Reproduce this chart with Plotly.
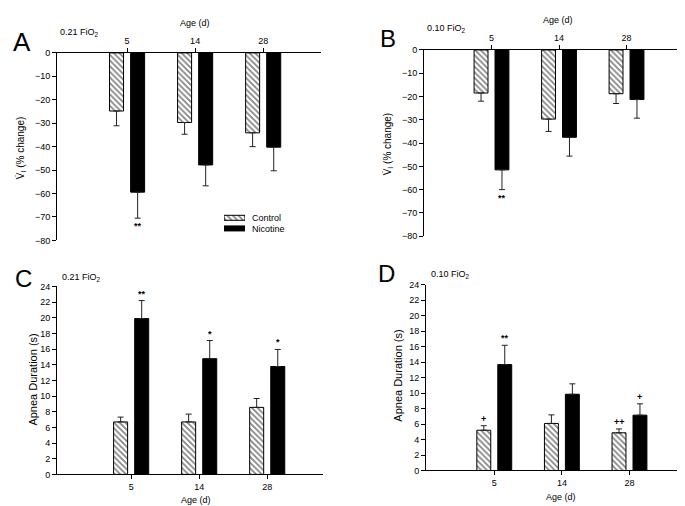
import plotly.graph_objects as go

W, H = 685, 506
FONT = "Liberation Sans, Arial, sans-serif"

# ---------------- data ----------------
ages = ["5", "14", "28"]
cat_pos = [0, 1, 2]

# Panel A: 0.21 FiO2, VI (% change)
a_control = [-24.8, -29.7, -34.1]
a_control_err = [6.3, 5.0, 5.9]
a_nicotine = [-59.4, -47.8, -40.2]
a_nicotine_err = [11.1, 8.9, 10.1]
a_control_sig = ["", "", ""]
a_nicotine_sig = ["**", "", ""]

# Panel B: 0.10 FiO2, VI (% change)
b_control = [-18.5, -29.7, -18.8]
b_control_err = [3.5, 5.3, 4.2]
b_nicotine = [-51.5, -37.5, -21.3]
b_nicotine_err = [8.5, 8.1, 8.0]
b_control_sig = ["", "", ""]
b_nicotine_sig = ["**", "", ""]

# Panel C: 0.21 FiO2, apnea duration (s)
c_control = [6.7, 6.7, 8.56]
c_control_err = [0.62, 1.0, 1.13]
c_nicotine = [19.9, 14.78, 13.78]
c_nicotine_err = [2.3, 2.32, 2.18]
c_control_sig = ["", "", ""]
c_nicotine_sig = ["**", "*", "*"]

# Panel D: 0.10 FiO2, apnea duration (s)
d_control = [5.2, 6.08, 4.87]
d_control_err = [0.59, 1.11, 0.5]
d_nicotine = [13.69, 9.85, 7.15]
d_nicotine_err = [2.49, 1.35, 1.47]
d_control_sig = ["+", "", "++"]
d_nicotine_sig = ["**", "", "+"]

# ---------------- layout helpers ----------------
def px_x(p):
    return p / W

def px_y(p):
    return 1 - p / H

BAR_W = 0.206
HALF_SEP = 0.155
OFF_C = -HALF_SEP - BAR_W / 2
OFF_N = HALF_SEP - BAR_W / 2

panels = [
    dict(key="A", ax=1, ctrl=a_control, ctrl_err=a_control_err, nic=a_nicotine, nic_err=a_nicotine_err,
         csig=a_control_sig, nsig=a_nicotine_sig, neg=True,
         box=(49, 313, 40.7, 232), xr=[-1.03, 2.85], fio="0.21 FiO<sub>2</sub>"),
    dict(key="B", ax=2, ctrl=b_control, ctrl_err=b_control_err, nic=b_nicotine, nic_err=b_nicotine_err,
         csig=b_control_sig, nsig=b_nicotine_sig, neg=True,
         box=(416, 684, 37.7, 227.7), xr=[-1.0, 2.97], fio="0.10 FiO<sub>2</sub>"),
    dict(key="C", ax=3, ctrl=c_control, ctrl_err=c_control_err, nic=c_nicotine, nic_err=c_nicotine_err,
         csig=c_control_sig, nsig=c_nicotine_sig, neg=False,
         box=(49, 315, 279, 470.7), xr=[-1.09, 2.82], fio="0.21 FiO<sub>2</sub>"),
    dict(key="D", ax=4, ctrl=d_control, ctrl_err=d_control_err, nic=d_nicotine, nic_err=d_nicotine_err,
         csig=d_control_sig, nsig=d_nicotine_sig, neg=False,
         box=(418, 683, 277.3, 466.7), xr=[-1.01, 2.91], fio="0.10 FiO<sub>2</sub>"),
]

fig = go.Figure()
annotations = []
layout = {}

hatch = dict(shape="\\", fgcolor="black", bgcolor="white", size=4, solidity=0.4)

for p in panels:
    n = p["ax"]
    xa = "x" if n == 1 else f"x{n}"
    ya = "y" if n == 1 else f"y{n}"
    zeros = [0, 0, 0]
    if p["neg"]:
        ec = dict(type="data", symmetric=False, array=zeros, arrayminus=p["ctrl_err"],
                  color="#222", thickness=1, width=3)
        en = dict(type="data", symmetric=False, array=zeros, arrayminus=p["nic_err"],
                  color="#222", thickness=1, width=3)
    else:
        ec = dict(type="data", symmetric=False, array=p["ctrl_err"], arrayminus=zeros,
                  color="#222", thickness=1, width=3)
        en = dict(type="data", symmetric=False, array=p["nic_err"], arrayminus=zeros,
                  color="#222", thickness=1, width=3)
    fig.add_trace(go.Bar(x=cat_pos, y=p["ctrl"], width=BAR_W, offset=OFF_C,
                         marker=dict(color="white", line=dict(color="black", width=1), pattern=hatch),
                         error_y=ec, xaxis=xa, yaxis=ya, showlegend=False))
    fig.add_trace(go.Bar(x=cat_pos, y=p["nic"], width=BAR_W, offset=OFF_N,
                         marker=dict(color="black", line=dict(color="black", width=1)),
                         error_y=en, xaxis=xa, yaxis=ya, showlegend=False))

    x0, x1, top, bot = p["box"]
    xkey = "xaxis" if n == 1 else f"xaxis{n}"
    ykey = "yaxis" if n == 1 else f"yaxis{n}"
    tickfont = dict(family=FONT, size=9, color="black")
    layout[xkey] = dict(domain=[px_x(x0), px_x(x1)], range=p["xr"], anchor=ya,
                        side="top" if p["neg"] else "bottom",
                        tickvals=cat_pos, ticktext=ages, ticks="outside", ticklen=4,
                        tickcolor="black", showline=True, linecolor="black", linewidth=1,
                        showgrid=False, zeroline=False, tickfont=tickfont, fixedrange=True)
    if p["neg"]:
        yr, dt = [-80, 0], 10
    else:
        yr, dt = [0, 24], 2
    layout[ykey] = dict(domain=[px_y(bot), px_y(top)], range=yr, dtick=dt, anchor=xa,
                        ticks="outside", ticklen=4, tickcolor="black",
                        showline=True, linecolor="black", linewidth=1,
                        showgrid=False, zeroline=False, tickfont=tickfont, fixedrange=True)

    # significance marks
    for i in range(3):
        for sig, vals, errs, off in ((p["csig"], p["ctrl"], p["ctrl_err"], -HALF_SEP),
                                     (p["nsig"], p["nic"], p["nic_err"], HALF_SEP)):
            if sig[i]:
                if p["neg"]:
                    yv = vals[i] - errs[i]
                    annotations.append(dict(x=cat_pos[i] + off, y=yv, xref=xa, yref=ya,
                                            text="<b>" + sig[i] + "</b>",
                                            showarrow=False, yanchor="top", yshift=-1,
                                            font=dict(family=FONT, size=9, color="black")))
                else:
                    yv = vals[i] + errs[i]
                    annotations.append(dict(x=cat_pos[i] + off, y=yv, xref=xa, yref=ya,
                                            text="<b>" + sig[i] + "</b>",
                                            showarrow=False, yanchor="bottom", yshift=0,
                                            font=dict(family=FONT, size=9, color="black")))

# ---------------- text annotations (paper) ----------------
def ann(text, x, y, size=9, xanchor="center", yanchor="middle", angle=0):
    annotations.append(dict(text=text, x=px_x(x), y=px_y(y), xref="paper", yref="paper",
                            showarrow=False, xanchor=xanchor, yanchor=yanchor, textangle=angle,
                            font=dict(family=FONT, size=size, color="black")))

# panel letters
ann("A", 14, 30, size=26)
ann("B", 380, 26, size=24)
ann("C", 15, 271, size=24)
ann("D", 379, 266, size=24)

# FiO2 labels
ann(panels[0]["fio"], 50, 20, xanchor="left")
ann(panels[1]["fio"], 417, 16, xanchor="left")
ann(panels[2]["fio"], 52, 270, xanchor="left")
ann(panels[3]["fio"], 421, 267, xanchor="left")

# age titles
ann("Age (d)", 187, 10)
ann("Age (d)", 550, 7)
ann("Age (d)", 188, 497)
ann("Age (d)", 553, 494)

# y titles
vi_title = "V\u0307<sub>I</sub> (% change)"
ann(vi_title, 13, 138, size=10, angle=-90)
ann(vi_title, 380, 134, size=10, angle=-90)
ann("Apnea Duration (s)", 25, 374, size=11, angle=-90)
ann("Apnea Duration (s)", 390, 370, size=11, angle=-90)

# legend (panel A)
fig.add_trace(go.Bar(y=[1], x=[1], orientation="h", width=0.47,
                     marker=dict(color="white", line=dict(color="black", width=1), pattern=hatch),
                     xaxis="x5", yaxis="y5", showlegend=False))
fig.add_trace(go.Bar(y=[0], x=[1], orientation="h", width=0.47,
                     marker=dict(color="black", line=dict(color="black", width=1)),
                     xaxis="x5", yaxis="y5", showlegend=False))
layout["xaxis5"] = dict(domain=[px_x(216), px_x(237)], range=[0, 1], anchor="y5", visible=False, fixedrange=True)
layout["yaxis5"] = dict(domain=[px_y(225.2), px_y(203.5)], range=[-0.5, 1.5], anchor="x5", visible=False, fixedrange=True)
ann("Control", 241.5, 209, xanchor="left")
ann("Nicotine", 241.5, 220, xanchor="left")

fig.update_layout(
    width=W, height=H, margin=dict(l=0, r=0, t=0, b=0),
    paper_bgcolor="white", plot_bgcolor="white",
    barmode="group", showlegend=False,
    font=dict(family=FONT, size=9, color="black"),
    annotations=annotations,
    **layout,
)

fig.write_html("out.html", config={"displayModeBar": False})
